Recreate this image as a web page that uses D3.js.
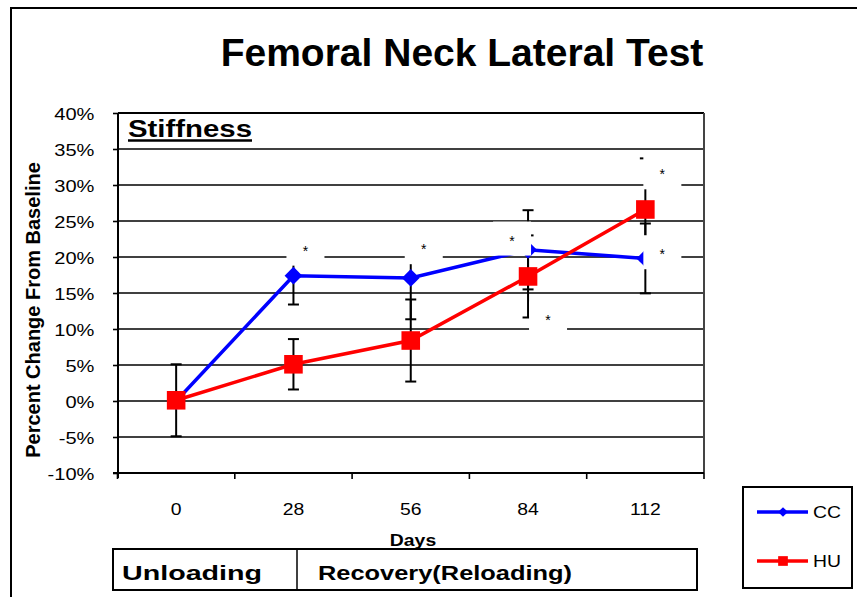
<!DOCTYPE html>
<html>
<head>
<meta charset="utf-8">
<script src="https://cdn.jsdelivr.net/npm/d3@7"></script>
<style>
	body { margin: 0; background: #fff; }
	text { font-family: "Liberation Sans", Arial, sans-serif; fill: #000; }
</style>
</head>
<body>
<div id="chart-area"></div>
<script>
// data (percent change from baseline)
const days = ["0", "28", "56", "84", "112"]
const ccValues = [0, 17.4, 17.1, 21.0, 19.8]
const ccErrors = [0, 4.0, 5.75, 5.5, 4.85]
const huValues = [0.1, 5.1, 8.4, 17.3, 26.6]
const huErrors = [5.0, 3.5, 5.7, 5.7, 7.1]
const yTicks = [-10, -5, 0, 5, 10, 15, 20, 25, 30, 35, 40]
const starDays = ["28", "56", "84", "84", "112", "112"]
const starValues = [21.3, 21.5, 22.7, 11.6, 31.9, 20.8]
const phases = ["Unloading", "Recovery(Reloading)"]
const seriesNames = ["CC", "HU"]

// layout
const W = 857, H = 597
const PLOT = { LEFT: 118, RIGHT: 704, TOP: 113, BOTTOM: 473 }
const STRETCH = 1.14
const starDx = [12, 13, -16, 20, 17, 17]
const COLORS = { CC: "#0000ff", HU: "#ff0000" }

const svg = d3.select("#chart-area").append("svg")
	.attr("width", W)
	.attr("height", H)

// outer frame
svg.append("path")
	.attr("d", `M11,${H} V8 H${W}`)
	.attr("fill", "none")
	.attr("stroke", "#000")
	.attr("stroke-width", 2)

svg.append("text")
	.attr("x", 462)
	.attr("y", 66)
	.attr("text-anchor", "middle")
	.attr("font-size", "39px")
	.attr("font-weight", "bold")
	.text("Femoral Neck Lateral Test")

// scales
const x = d3.scaleBand().domain(days).range([PLOT.LEFT - 0.5, PLOT.RIGHT])
const y = d3.scaleLinear().domain([-10, 40]).range([PLOT.BOTTOM, PLOT.TOP])
const cx = d => x(d) + x.bandwidth() / 2

// gridlines
svg.append("g").selectAll("line")
	.data(yTicks.slice(1))
	.enter().append("line")
	.attr("x1", PLOT.LEFT)
	.attr("x2", PLOT.RIGHT)
	.attr("y1", d => y(d))
	.attr("y2", d => y(d))
	.attr("stroke", "#000")
	.attr("stroke-width", d => d === 40 ? 2 : 1.6)

// right border of plot
svg.append("line")
	.attr("x1", PLOT.RIGHT).attr("x2", PLOT.RIGHT)
	.attr("y1", PLOT.TOP).attr("y2", PLOT.BOTTOM)
	.attr("stroke", "#444")
	.attr("stroke-width", 2)

// y axis
const yAxis = svg.append("g")
	.attr("transform", `translate(${PLOT.LEFT}, 0)`)
	.call(d3.axisLeft(y)
		.tickValues(yTicks)
		.tickFormat(d => `${d}%`)
		.tickSize(5)
		.tickSizeOuter(0)
		.tickPadding(15))
yAxis.select(".domain")
	.attr("d", `M0,${PLOT.TOP}V${PLOT.BOTTOM + 5}`)
	.attr("stroke-width", 2)
yAxis.selectAll(".tick line").attr("stroke-width", 1.6)
yAxis.selectAll("text")
	.attr("font-size", "17px")
	.attr("dy", "0.36em")
	.attr("transform", "scale(1.18,1)")

// x axis: labels in the middle of each band, ticks on the band edges
const xAxis = svg.append("g")
	.attr("transform", `translate(0, ${PLOT.BOTTOM})`)
	.call(d3.axisBottom(x).tickSize(0).tickPadding(30))
xAxis.select(".domain")
	.attr("d", `M${PLOT.LEFT - 5},0H${PLOT.RIGHT}`)
	.attr("stroke-width", 2)
xAxis.selectAll("text")
	.attr("font-size", "17px")
	.attr("transform", `scale(${STRETCH},1)`)
xAxis.selectAll(".edge")
	.data(days.map(d => x(d)).concat([PLOT.RIGHT]))
	.enter().append("line")
	.attr("class", "edge")
	.attr("x1", d => d).attr("x2", d => d)
	.attr("y1", 0).attr("y2", 6)
	.attr("stroke", "#000")
	.attr("stroke-width", 1.6)

// axis titles
svg.append("text")
	.attr("transform", "translate(40, 310) rotate(-90)")
	.attr("text-anchor", "middle")
	.attr("font-size", "20px")
	.attr("font-weight", "bold")
	.text("Percent Change From Baseline")

svg.append("text")
	.attr("transform", `translate(413, 546) scale(${STRETCH},1)`)
	.attr("text-anchor", "middle")
	.attr("font-size", "17px")
	.attr("font-weight", "bold")
	.text("Days")

// panel label
svg.append("text")
	.attr("x", 128)
	.attr("y", 137)
	.attr("font-size", "23px")
	.attr("font-weight", "bold")
	.attr("textLength", 124)
	.attr("lengthAdjust", "spacingAndGlyphs")
	.text("Stiffness")
svg.append("line")
	.attr("x1", 128).attr("x2", 252)
	.attr("y1", 140.5).attr("y2", 140.5)
	.attr("stroke", "#000")
	.attr("stroke-width", 2.5)

// error bars
const series = [
	{ name: "CC", values: ccValues, errors: ccErrors },
	{ name: "HU", values: huValues, errors: huErrors }
]
const errG = svg.append("g")
series.forEach(s => {
	days.forEach((d, i) => {
		const e = s.errors[i]
		if (!e) return
		const lo = y(s.values[i] - e), hi = y(s.values[i] + e)
		errG.append("line")
			.attr("x1", cx(d)).attr("x2", cx(d))
			.attr("y1", lo).attr("y2", hi)
			.attr("stroke", "#000").attr("stroke-width", 2)
		;[lo, hi].forEach(v => {
			errG.append("line")
				.attr("x1", cx(d) - 5.5).attr("x2", cx(d) + 5.5)
				.attr("y1", v).attr("y2", v)
				.attr("stroke", "#000").attr("stroke-width", 2)
		})
	})
})

// lines + markers
const line = d3.line()
	.x(d => cx(d.day))
	.y(d => y(d.value))

series.forEach(s => {
	const pts = days.map((d, i) => ({ day: d, value: s.values[i] }))
	svg.append("path")
		.attr("fill", "none")
		.attr("stroke", COLORS[s.name])
		.attr("stroke-width", 3.5)
		.attr("d", line(pts))
	const sym = s.name === "CC"
		? d3.symbol().type(d3.symbolDiamond2).size(200)
		: d3.symbol().type(d3.symbolSquare2).size(440)
	svg.append("g").selectAll("path")
		.data(pts)
		.enter().append("path")
		.attr("transform", d => `translate(${cx(d.day)}, ${y(d.value)})`)
		.attr("d", sym)
		.attr("fill", COLORS[s.name])
})

// significance labels (white boxes over everything)
const stars = svg.append("g")
starDays.forEach((d, i) => {
	const sx = cx(d) + starDx[i], sy = y(starValues[i])
	stars.append("rect")
		.attr("x", sx - 19)
		.attr("y", sy - 16)
		.attr("width", 38)
		.attr("height", 34)
		.attr("fill", "#fff")
	stars.append("text")
		.attr("x", sx)
		.attr("y", sy + 8)
		.attr("text-anchor", "middle")
		.attr("font-size", "14px")
		.text("*")
})

// phase table under the axis (covers the foot of the "Days" label)
const table = svg.append("g")
table.append("rect")
	.attr("x", 113).attr("y", 549)
	.attr("width", 584).attr("height", 41)
	.attr("fill", "#fff")
	.attr("stroke", "#000")
	.attr("stroke-width", 2)
table.append("line")
	.attr("x1", 297).attr("x2", 297)
	.attr("y1", 549).attr("y2", 590)
	.attr("stroke", "#000")
	.attr("stroke-width", 1.5)
const phaseX = [192, 445]
const phaseLen = [140, 254]
phases.forEach((p, i) => {
	table.append("text")
		.attr("x", phaseX[i])
		.attr("y", 580)
		.attr("text-anchor", "middle")
		.attr("font-size", "20px")
		.attr("font-weight", "bold")
		.attr("textLength", phaseLen[i])
		.attr("lengthAdjust", "spacingAndGlyphs")
		.text(p)
})

// legend
const legend = svg.append("g")
legend.append("rect")
	.attr("x", 743).attr("y", 487)
	.attr("width", 109).attr("height", 101)
	.attr("fill", "#fff")
	.attr("stroke", "#000")
	.attr("stroke-width", 2)
seriesNames.forEach((name, i) => {
	const ly = 512 + i * 49
	legend.append("line")
		.attr("x1", 757).attr("x2", 808)
		.attr("y1", ly).attr("y2", ly)
		.attr("stroke", COLORS[name])
		.attr("stroke-width", 3.5)
	legend.append("path")
		.attr("transform", `translate(783, ${ly})`)
		.attr("d", name === "CC"
			? d3.symbol().type(d3.symbolDiamond2).size(60)()
			: d3.symbol().type(d3.symbolSquare2).size(120)())
		.attr("fill", COLORS[name])
	legend.append("text")
		.attr("transform", `translate(813, ${ly + 6}) scale(${STRETCH},1)`)
		.attr("font-size", "17px")
		.text(name)
})
</script>
</body>
</html>
